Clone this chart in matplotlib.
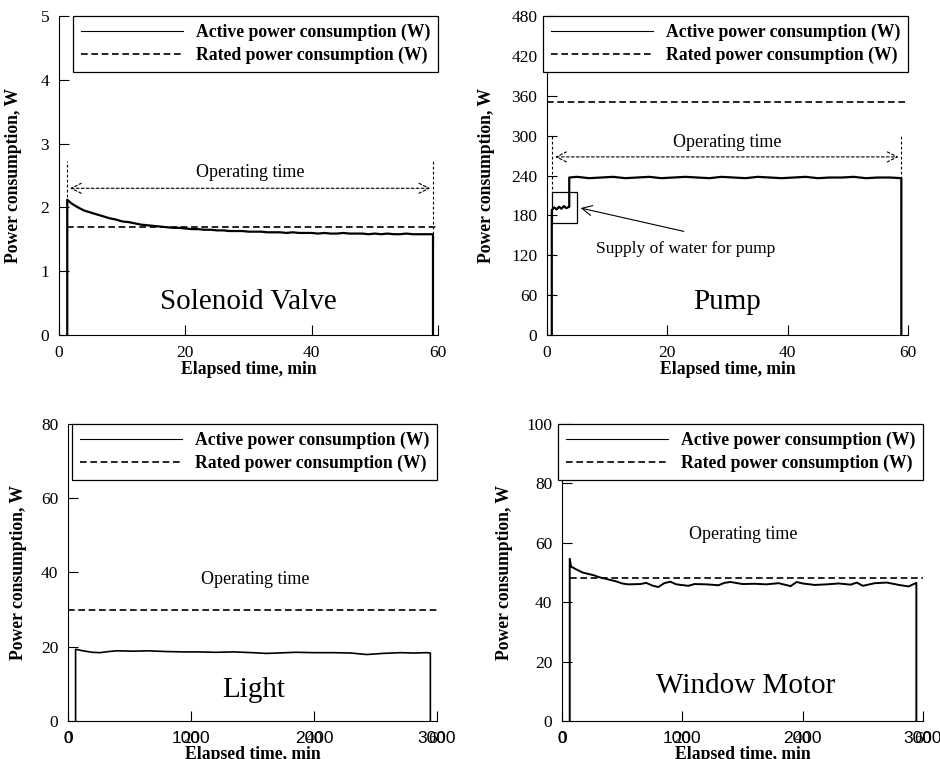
import matplotlib
matplotlib.use("Agg")
import matplotlib.pyplot as plt
from matplotlib.lines import Line2D

plt.rcParams['font.family'] = ['Liberation Serif', 'DejaVu Serif']

# ---------------- data ----------------
# Solenoid valve (time in min, power in W)
sol_t = [1.3, 1.3, 2, 3, 4, 5, 6, 7, 8, 9, 10, 11, 12, 13, 14, 15, 16, 17, 18, 19, 20,
         21, 22, 23, 24, 25, 26, 27, 28, 29, 30, 31, 32, 33, 34, 35, 36, 37, 38, 39, 40,
         41, 42, 43, 44, 45, 46, 47, 48, 49, 50, 51, 52, 53, 54, 55, 56, 57, 58, 59.2, 59.2]
sol_p = [0, 2.12, 2.06, 2.00, 1.95, 1.92, 1.89, 1.86, 1.83, 1.81, 1.78, 1.77, 1.75, 1.73, 1.72,
         1.71, 1.70, 1.69, 1.68, 1.68, 1.67, 1.66, 1.66, 1.65, 1.65, 1.64, 1.64, 1.63, 1.63,
         1.63, 1.62, 1.62, 1.62, 1.61, 1.61, 1.61, 1.60, 1.61, 1.60, 1.60, 1.60, 1.59, 1.60,
         1.59, 1.59, 1.60, 1.59, 1.59, 1.59, 1.58, 1.59, 1.58, 1.59, 1.58, 1.58, 1.59, 1.58,
         1.58, 1.58, 1.58, 0]
sol_rated = 1.7
sol_range = [1.3, 59.2]

# Pump (min, W)
pump_t = [0.8, 0.8, 1.2, 1.6, 2.0, 2.4, 2.8, 3.2, 3.7, 3.7, 5, 7, 9, 11, 13, 15, 17, 19, 21,
          23, 25, 27, 29, 31, 33, 35, 37, 39, 41, 43, 45, 47, 49, 51, 53, 55, 57, 58.9, 58.9]
pump_p = [0, 188, 192, 189, 193, 190, 194, 191, 193, 237, 238, 236, 237, 238, 236, 237, 238,
          236, 237, 238, 237, 236, 238, 237, 236, 238, 237, 236, 237, 238, 236, 237, 237, 238,
          236, 237, 237, 236, 0]
pump_rated = 350
pump_range = [0.9, 58.9]
pump_box = [0.9, 5.0, 168, 215]

# Light (s, W)
light_t = [62, 62, 80, 120, 200, 260, 330, 400, 530, 650, 800, 950, 1070, 1200, 1350, 1500,
           1615, 1700, 1850, 2000, 2160, 2300, 2430, 2560, 2700, 2820, 2918, 2946, 2946]
light_p = [0, 19.3, 19.2, 18.9, 18.5, 18.4, 18.7, 18.9, 18.8, 18.9, 18.7, 18.6, 18.6, 18.5,
           18.6, 18.4, 18.2, 18.3, 18.5, 18.4, 18.4, 18.3, 17.9, 18.2, 18.4, 18.3, 18.4, 18.3, 0]
light_rated = 30

# Window motor (s, W)
win_t = [64, 64, 75, 120, 170, 220, 270, 300, 350, 400, 450, 500, 550, 650, 700, 750, 800,
         850, 900, 950, 1050, 1100, 1200, 1300, 1350, 1400, 1500, 1600, 1700, 1800, 1900,
         1950, 2000, 2100, 2200, 2300, 2400, 2450, 2500, 2600, 2700, 2800, 2880, 2945, 2945]
win_p = [0, 54.6, 52.0, 51.0, 50.0, 49.5, 49.0, 48.5, 48.0, 47.5, 47.0, 46.3, 46.0, 46.1,
         46.5, 45.6, 45.1, 46.4, 46.9, 46.0, 45.5, 46.1, 46.0, 45.7, 46.5, 46.8, 46.1, 46.2,
         46.0, 46.4, 45.4, 46.8, 46.3, 45.8, 46.0, 46.3, 45.9, 46.6, 45.5, 46.4, 46.6, 45.8,
         45.3, 46.5, 0]
win_rated = 48

sec_ticks = [0, 1000, 2000, 3000]
min_labels = ['0', '20', '40', '60']
leg_labels = ['Active power consumption (W)', 'Rated power consumption (W)']
dash = (0, (4, 2.2))
fine = (0, (2.5, 2))
TICKPAD = 7
FS = 12.5


def style_axes(ax, ylab_x):
    ax.spines['top'].set_visible(False)
    ax.spines['right'].set_visible(False)
    ax.tick_params(direction='in', length=7.5, width=0.8, labelsize=FS, pad=TICKPAD,
                   top=False, right=False)
    ax.set_ylabel('Power consumption, W', fontweight='bold', fontsize=12.7)
    ax.yaxis.set_label_coords(ylab_x, 0.5)
    handles = [Line2D([], [], color='black', lw=0.8),
               Line2D([], [], color='black', lw=1.2, ls=dash)]
    leg = ax.legend(handles, leg_labels, loc='upper right', bbox_to_anchor=(1.0, 1.0),
                    borderaxespad=0, handlelength=5.8, handletextpad=0.7, fancybox=False,
                    framealpha=1, edgecolor='black', prop={'weight': 'bold', 'size': 12.7},
                    borderpad=0.45, labelspacing=0.3)
    leg.get_frame().set_linewidth(0.9)


def op_arrow(ax, x0, x1, y, ytop, ylow0, ylow1, ytext):
    ax.annotate('', xy=(x1, y), xytext=(x0, y),
                arrowprops=dict(arrowstyle='<->', lw=0.8, ls=fine, mutation_scale=18))
    ax.plot([x0, x0], [ylow0, ytop], color='black', lw=0.8, ls=fine)
    ax.plot([x1, x1], [ylow1, ytop], color='black', lw=0.8, ls=fine)
    ax.text((x0 + x1) / 2, ytext, 'Operating time', ha='center', va='center', fontsize=13)


def sec_min_ticks(ax):
    ax.set_xticks(sec_ticks)
    ax.set_xticklabels([str(v) for v in sec_ticks], family='Liberation Sans', fontsize=11.5)
    for x, lab in zip(sec_ticks, min_labels):
        ax.annotate(lab, xy=(x, 0), xycoords=('data', 'axes fraction'),
                    xytext=(0, -TICKPAD), textcoords='offset points',
                    ha='center', va='top', fontsize=FS)
    ax.set_xlabel('Elapsed time, min', fontweight='bold', fontsize=12.7, labelpad=0)


fig = plt.figure(figsize=(9.4, 7.59), dpi=100)

# ---- Solenoid valve
ax1 = fig.add_axes([0.0628, 0.5586, 0.4032, 0.4203])
ax1.plot(sol_t, sol_p, color='black', lw=1.6)
ax1.plot([1.3, 60], [sol_rated, sol_rated], color='black', lw=1.2, ls=dash)
op_arrow(ax1, sol_range[0], sol_range[1], 2.3, 2.72, 1.38, 1.35, 2.55)
ax1.text(30, 0.52, 'Solenoid Valve', ha='center', va='center', fontsize=21)
ax1.set_xlim(0, 60)
ax1.set_ylim(0, 5)
ax1.set_xticks([0, 20, 40, 60])
ax1.set_yticks([0, 1, 2, 3, 4, 5])
ax1.set_xlabel('Elapsed time, min', fontweight='bold', fontsize=12.7, labelpad=0)
style_axes(ax1, -0.098)

# ---- Pump
ax2 = fig.add_axes([0.5819, 0.5586, 0.3840, 0.4203])
ax2.plot(pump_t, pump_p, color='black', lw=1.6)
ax2.plot([0, 60], [pump_rated, pump_rated], color='black', lw=1.2, ls=dash)
op_arrow(ax2, pump_range[0], pump_range[1], 268, 300, 212, 190, 289)
ax2.plot([pump_box[0], pump_box[1], pump_box[1], pump_box[0], pump_box[0]],
         [pump_box[2], pump_box[2], pump_box[3], pump_box[3], pump_box[2]], color='black', lw=0.9)
ax2.annotate('', xy=(5.15, 192), xytext=(23.2, 155),
             arrowprops=dict(arrowstyle='->', lw=0.8, mutation_scale=18))
ax2.text(8.2, 130, 'Supply of water for pump', ha='left', va='center', fontsize=12.5)
ax2.text(30, 50, 'Pump', ha='center', va='center', fontsize=21)
ax2.set_xlim(0, 60)
ax2.set_ylim(0, 480)
ax2.set_xticks([0, 20, 40, 60])
ax2.set_yticks(range(0, 481, 60))
ax2.set_xlabel('Elapsed time, min', fontweight='bold', fontsize=12.7, labelpad=0)
style_axes(ax2, -0.144)

# ---- Light
ax3 = fig.add_axes([0.0723, 0.0501, 0.3926, 0.3913])
ax3.plot(light_t, light_p, color='black', lw=1.2)
ax3.plot([0, 3000], [light_rated, light_rated], color='black', lw=1.2, ls=dash)
ax3.text(1520, 38.2, 'Operating time', ha='center', va='center', fontsize=13)
ax3.text(1510, 8.3, 'Light', ha='center', va='center', fontsize=21)
ax3.set_xlim(0, 3000)
ax3.set_ylim(0, 80)
ax3.set_yticks(range(0, 81, 20))
sec_min_ticks(ax3)
style_axes(ax3, -0.111)

# ---- Window motor
ax4 = fig.add_axes([0.5979, 0.0501, 0.3840, 0.3913])
ax4.plot(win_t, win_p, color='black', lw=1.4)
ax4.plot([64, 3000], [win_rated, win_rated], color='black', lw=1.2, ls=dash)
ax4.text(1510, 62.9, 'Operating time', ha='center', va='center', fontsize=13)
ax4.text(1523, 11.7, 'Window Motor', ha='center', va='center', fontsize=21)
ax4.set_xlim(0, 3000)
ax4.set_ylim(0, 100)
ax4.set_yticks(range(0, 101, 20))
sec_min_ticks(ax4)
style_axes(ax4, -0.136)

fig.savefig('out.png', dpi=100)
